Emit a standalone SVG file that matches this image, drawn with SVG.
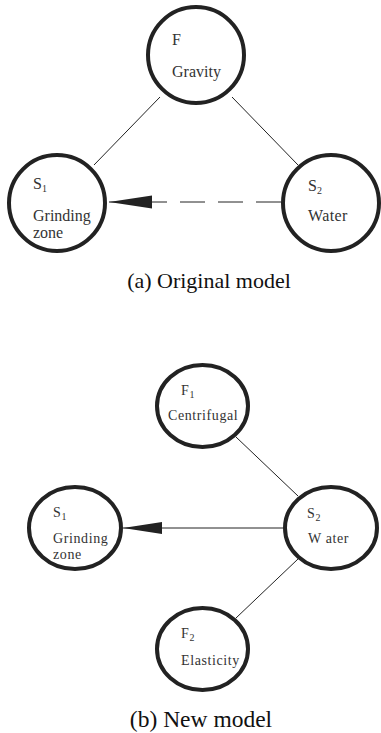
<svg xmlns="http://www.w3.org/2000/svg" width="381" height="733" viewBox="0 0 381 733">
<style>
.node{fill:#fff;stroke:#222;stroke-width:4}
.edge{stroke:#222;stroke-width:1;fill:none}
.dash{stroke-dasharray:25 13}
.ta{font-family:"Liberation Serif","Times New Roman",serif;font-size:16px;fill:#333}
.tb{font-family:"Liberation Serif","Times New Roman",serif;font-size:14px;letter-spacing:0.6px;fill:#333}
.sub{font-size:10px}
.cap{font-family:"Liberation Serif","Times New Roman",serif;fill:#111;text-anchor:middle}
</style>
<defs>
<marker id="arrA" markerUnits="userSpaceOnUse" markerWidth="44" markerHeight="14" refX="43" refY="7" orient="auto">
<path d="M0,0.5 L43,7 L0,13.5 z" fill="#222"/>
</marker>
<marker id="arrB" markerUnits="userSpaceOnUse" markerWidth="40" markerHeight="14" refX="39" refY="7" orient="auto">
<path d="M0,1 L39,7 L0,13 z" fill="#222"/>
</marker>
</defs>
<g id="connectors">
<line class="edge" x1="160" y1="97" x2="94" y2="165"/>
<line class="edge" x1="232" y1="97" x2="298" y2="165"/>
<line class="edge dash" x1="281" y1="202" x2="109" y2="202" marker-end="url(#arrA)"/>
<line class="edge" x1="236" y1="437" x2="298" y2="496"/>
<line class="edge" x1="298" y1="559" x2="236" y2="618"/>
<line class="edge" x1="283" y1="528" x2="123" y2="528" marker-end="url(#arrB)"/>
</g>
<g id="nodeF">
<circle class="node" cx="196" cy="55" r="48"/>
<text class="ta" x="172" y="45">F</text>
<text class="ta" x="172" y="77">Gravity</text>
</g>
<g id="nodeS1a">
<circle class="node" cx="57" cy="203" r="48"/>
<text class="ta" x="33" y="189">S<tspan class="sub" dy="3">1</tspan></text>
<text class="ta" x="33" y="221">Grinding</text>
<text class="ta" x="33" y="238">zone</text>
</g>
<g id="nodeS2a">
<circle class="node" cx="331" cy="203" r="48"/>
<text class="ta" x="308" y="191">S<tspan class="sub" dy="3">2</tspan></text>
<text class="ta" x="308" y="221" letter-spacing="0.4">Water</text>
</g>
<text class="cap" x="209" y="288" font-size="22">(a) Original model</text>
<g id="nodeF1">
<ellipse class="node" cx="202.5" cy="406" rx="45.5" ry="41"/>
<text class="tb" x="181" y="395">F<tspan class="sub" dy="3">1</tspan></text>
<text class="tb" x="168" y="420">Centrifugal</text>
</g>
<g id="nodeS1b">
<ellipse class="node" cx="75" cy="528" rx="46" ry="41"/>
<text class="tb" x="53" y="517">S<tspan class="sub" dy="3">1</tspan></text>
<text class="tb" x="53" y="543">Grinding</text>
<text class="tb" x="53" y="559">zone</text>
</g>
<g id="nodeS2b">
<ellipse class="node" cx="331" cy="528" rx="46" ry="41"/>
<text class="tb" x="307" y="518">S<tspan class="sub" dy="3">2</tspan></text>
<text class="tb" x="308" y="543">W ater</text>
</g>
<g id="nodeF2">
<ellipse class="node" cx="202.5" cy="649" rx="45.5" ry="41"/>
<text class="tb" x="181" y="638">F<tspan class="sub" dy="3">2</tspan></text>
<text class="tb" x="181" y="665">Elasticity</text>
</g>
<text class="cap" x="201" y="727" font-size="23.5">(b) New model</text>
</svg>
